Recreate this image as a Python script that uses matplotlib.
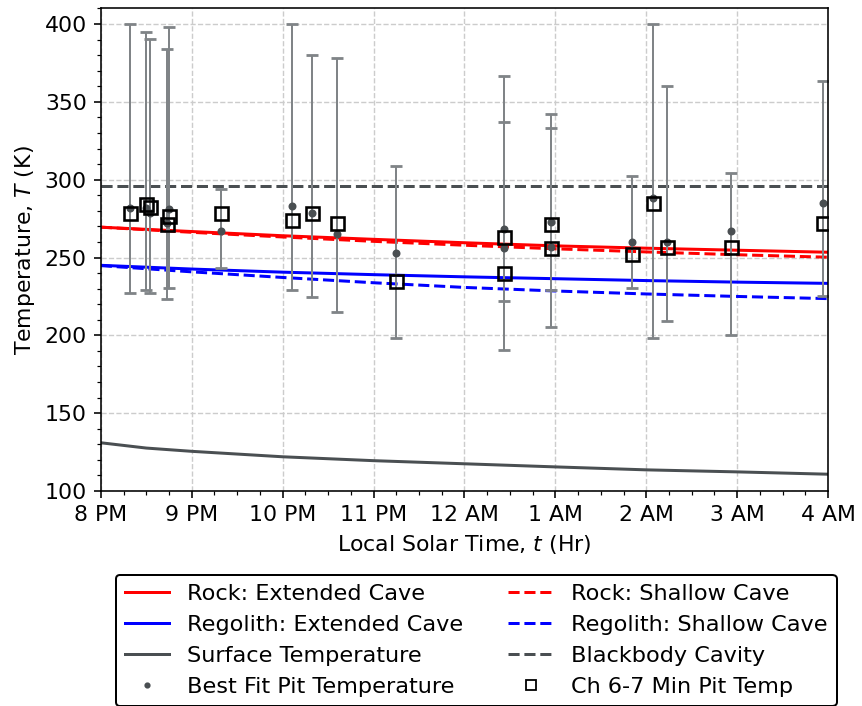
import numpy as np
import matplotlib
matplotlib.use("Agg")
import matplotlib.pyplot as plt
from matplotlib.ticker import MultipleLocator

# model curves, hourly from 8 PM (20) to 4 AM (28)
hours = [20, 21, 22, 23, 24, 25, 26, 27, 28]
rock_ext = [269.5, 266.7, 264.0, 261.7, 259.5, 257.5, 256.0, 254.7, 253.4]
rock_shallow = [269.5, 266.2, 263.2, 260.4, 257.9, 255.6, 253.6, 251.8, 250.2]
reg_ext = [245.0, 242.6, 240.6, 239.0, 237.6, 236.4, 235.2, 234.2, 233.4]
reg_shallow = [244.8, 240.8, 237.2, 233.8, 230.8, 228.5, 226.6, 225.0, 223.6]
surf_hours = [20, 20.5, 21, 22, 23, 24, 25, 26, 27, 28]
surface = [131.0, 127.6, 125.5, 122.0, 119.5, 117.5, 115.5, 113.6, 112.3, 110.8]
blackbody = 296

# pit observations
obs_t = [20.32, 20.50, 20.54, 20.73, 20.75, 21.32, 22.10, 22.32, 22.60, 23.25,
         24.43, 24.43, 24.95, 24.95, 25.84, 26.07, 26.23, 26.93, 27.95]
best_fit = [282, 282, 278.4, 272, 281, 267, 283, 278.4, 265, 253.1,
            268.1, 256.3, 272.6, 257, 260.2, 288, 259.8, 267, 285.2]
err_lo = [227.2, 229, 227.2, 223.1, 230.2, 243.1, 229, 224.4, 215.2, 198,
          222, 190.6, 229, 205.2, 230.2, 198.3, 209.2, 200.2, 225.3]
err_hi = [400, 395, 390.2, 384.1, 398.3, 294, 400, 380, 378, 309,
          366.8, 337, 342, 333, 302.4, 400, 360.2, 304.1, 363.4]
min_temp = [278.4, 284.2, 282.6, 271.3, 276.7, 278.4, 274, 278.4, 272, 235.1,
            263, 240, 271.3, 256, 252.2, 285.2, 257, 257, 272]

tick_labels = ["8 PM", "9 PM", "10 PM", "11 PM", "12 AM", "1 AM", "2 AM", "3 AM", "4 AM"]

dark = "#4a4f52"

plt.rcParams["font.size"] = 11
fig = plt.figure(figsize=(862 / 144, 706 / 144), dpi=144)
ax = fig.add_axes([0.117, 0.3045, 0.8436, 0.6835])

h_re, = ax.plot(hours, rock_ext, color="red", lw=1.5, label="Rock: Extended Cave")
h_rs, = ax.plot(hours, rock_shallow, color="red", lw=1.5, ls="--", label="Rock: Shallow Cave")
h_ge, = ax.plot(hours, reg_ext, color="blue", lw=1.5, label="Regolith: Extended Cave")
h_gs, = ax.plot(hours, reg_shallow, color="blue", lw=1.5, ls="--", label="Regolith: Shallow Cave")
h_sf, = ax.plot(surf_hours, surface, color=dark, lw=1.5, label="Surface Temperature")
h_bb = ax.axhline(blackbody, color=dark, lw=1.5, ls="--", label="Blackbody Cavity")

bf = np.array(best_fit)
yerr = [bf - np.array(err_lo), np.array(err_hi) - bf]
eb = ax.errorbar(obs_t, bf, yerr=yerr, fmt="none", ecolor="#808487",
                 elinewidth=1.0, capsize=3.2, capthick=1.4)
for cap in eb[1]:
    cap.set_color("#555a5d")
h_bf, = ax.plot(obs_t, best_fit, ".", color=dark, ms=6, label="Best Fit Pit Temperature")
h_mt, = ax.plot(obs_t, min_temp, "s", mfc="none", mec="black", mew=1.3, ms=6.5,
                label="Ch 6-7 Min Pit Temp")

ax.set_xlim(20, 28)
ax.set_ylim(100, 410)
ax.set_xticks(hours)
ax.set_xticklabels(tick_labels)
ax.xaxis.set_minor_locator(MultipleLocator(0.25))
ax.yaxis.set_minor_locator(MultipleLocator(10))
ax.grid(True, which="major", ls="--", color="#cccccc", lw=0.7)
ax.set_xlabel("Local Solar Time, $t$ (Hr)")
ax.set_ylabel("Temperature, $T$ (K)")

# column-major order so rows read left to right
handles = [h_re, h_ge, h_sf, h_bf, h_rs, h_gs, h_bb, h_mt]
leg = ax.legend(handles=handles, labels=[h.get_label() for h in handles],
                loc="upper center", bbox_to_anchor=(0.516, -0.15), ncol=2,
                edgecolor="black", framealpha=1, markerscale=0.7, fontsize=11.2)
leg.legend_handles[7].set_markeredgewidth(0.9)

fig.savefig("out.png", dpi=144)
